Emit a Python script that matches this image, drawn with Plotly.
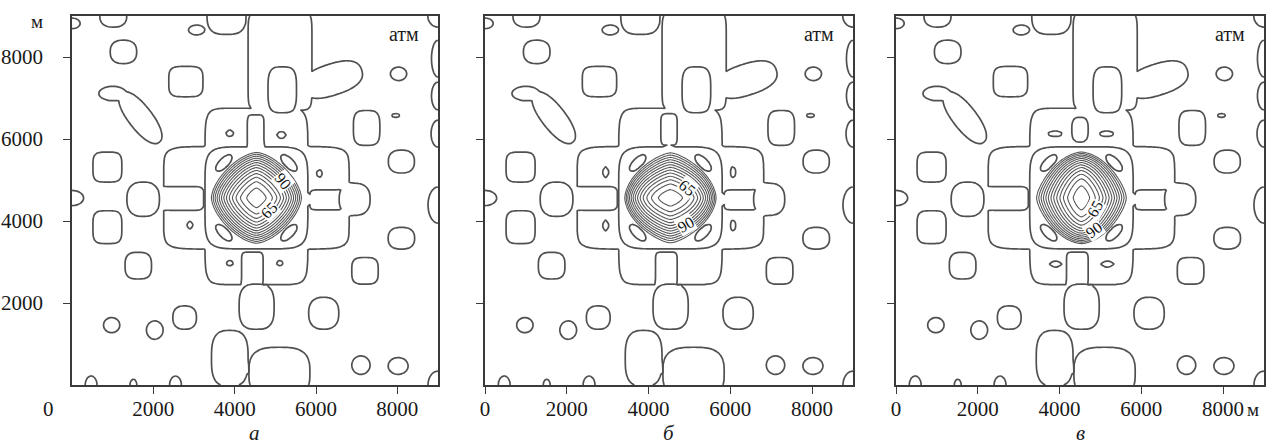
import numpy as np
import plotly.graph_objects as go

# ---------------- data ----------------
PANEL_LETTERS = ["а", "б", "в"]
PRESSURE_UNIT = "атм"
LENGTH_UNIT = "м"
X_TICKS_A = [2000, 4000, 6000, 8000]
X_TICKS_BC = [0, 2000, 4000, 6000, 8000]
Y_TICKS = [2000, 4000, 6000, 8000]
AXIS_MAX = 9000

LATTICE_LEVEL = 120          # атм, the single isobar of the outer field
LATTICE_SWING = 4
CLUSTER_START, CLUSTER_END, CLUSTER_STEP = 55, 115, 5
LABEL_LEVELS = [65, 90]
# direction (deg, from the well centre) in which the 65 and 90 labels sit, per panel
LABEL_DIRECTIONS = [[-45, 31], [31, -60], [-38, -68]]

# central well (depression) for panels а, б, в
WELL_X = [4535, 4535, 4535]
WELL_Y = [4565, 4565, 4565]
WELL_MIN = [52, 52, 52]
WELL_RADIUS = [1150, 1150, 1150]
WELL_STRETCH_X = [1.0, 1.3, 0.8]
WELL_STRETCH_Y = [1.0, 0.8, 1.3]
WELL_P_INNER = [1.25, 1.3, 1.3]
WELL_P_OUTER = [1.6, 1.6, 1.6]

# zones: (x, y, half-width, half-height, squareness, rotation deg, +1 above / -1 below isobar)
CROSS_ZONES = [
    (4535, 4565, 2280, 1250, 10, 0, 1),
    (4535, 4600, 1265, 2150, 10, 0, 1),
    (5115, 7900, 785, 1200, 10, 0, 1),
    (6400, 7450, 760, 380, 2.5, 18, 1),
    (4535, 4565, 1265, 1245, 6, 0, -1),
    (2710, 4550, 510, 290, 8, 0, -1),
    (6370, 4515, 520, 245, 8, 0, -1),
    (4435, 2820, 265, 420, 8, 0, -1),
    (5170, 7200, 350, 560, 3.5, 0, -1),
]
RING_EYES = [
    (3735, 5415, 260, 115, 2, 45, 1),
    (5335, 5415, 260, 115, 2, -45, 1),
    (3735, 3715, 260, 115, 2, -45, 1),
    (5335, 3715, 260, 115, 2, 45, 1),
]
OUTER_BLOBS = [
    (0, 8820, 200, 130, 2, 0, 1),
    (1015, 9000, 330, 270, 2.5, 0, 1),
    (1265, 8125, 325, 285, 2.5, 0, 1),
    (1000, 7110, 340, 175, 2, 0, 1),
    (1680, 6520, 760, 290, 2.2, -52, 1),
    (870, 5315, 355, 365, 4, 0, 1),
    (0, 4560, 285, 185, 2, 0, 1),
    (1750, 4530, 400, 420, 2.5, 0, 1),
    (870, 3850, 355, 400, 4, 0, 1),
    (1630, 2910, 325, 325, 3, 0, 1),
    (975, 1460, 200, 185, 2, 0, 1),
    (2035, 1340, 205, 225, 2, 0, 1),
    (2770, 1645, 290, 285, 2.5, 0, 1),
    (470, 0, 145, 220, 2, 0, 1),
    (1510, 0, 85, 140, 2, 0, 1),
    (2545, 0, 145, 220, 2, 0, 1),
    (3880, 650, 450, 680, 3, 0, 1),
    (5100, 300, 750, 620, 3, 0, 1),
    (4540, 1910, 430, 550, 3, 0, 1),
    (6190, 1750, 370, 390, 2.5, 0, 1),
    (7105, 485, 225, 225, 2, 0, 1),
    (8020, 465, 245, 205, 2, 0, 1),
    (9000, 0, 245, 340, 2, 0, 1),
    (7205, 2785, 325, 325, 3.5, 0, 1),
    (8100, 3580, 325, 265, 2.5, 0, 1),
    (8100, 5450, 320, 280, 2.5, 0, 1),
    (7245, 6270, 325, 425, 3.5, 0, 1),
    (7960, 6575, 100, 45, 2, 0, 1),
    (8030, 7590, 200, 165, 2, 0, 1),
    (9000, 7960, 160, 450, 2, 0, 1),
    (9000, 7050, 160, 340, 2, 0, 1),
    (9000, 6130, 170, 330, 2, 0, 1),
    (9000, 4390, 245, 440, 2, 0, 1),
    (9000, 9000, 250, 270, 2, 0, 1),
    (6950, 4530, 380, 390, 2.5, 0, 1),
    (2800, 7400, 420, 370, 4, 0, 1),
    (3800, 9050, 480, 500, 3, 0, 1),
    (3065, 8660, 200, 120, 2, 0, 1),
]
PANEL_ZONES = [
    [  # а
        (4515, 6150, 205, 440, 6, 0, -1),
        (3880, 6140, 90, 70, 2, 0, -1),
        (5150, 6100, 110, 70, 2, 0, -1),
        (2900, 3900, 60, 90, 2, 0, -1),
        (3880, 2970, 80, 60, 2, 0, -1),
        (5110, 2970, 70, 60, 2, 0, -1),
        (6090, 5160, 60, 90, 2, 0, -1),
    ],
    [  # б
        (4500, 6230, 200, 380, 6, 0, -1),
        (2950, 5190, 60, 130, 2, 0, -1),
        (2950, 3890, 60, 130, 2, 0, -1),
        (6065, 5190, 60, 130, 2, 0, -1),
        (6065, 3890, 60, 130, 2, 0, -1),
    ],
    [  # в
        (4500, 6230, 200, 300, 3, 0, -1),
        (3890, 6130, 170, 65, 2, 0, -1),
        (5150, 6130, 170, 65, 2, 0, -1),
        (3905, 2950, 150, 60, 2, 0, -1),
        (5170, 2950, 160, 60, 2, 0, -1),
    ],
]

# ---------------- field construction ----------------
def zone_depth(gx, gy, zone):
    cx, cy, rx, ry, p, ang, _ = zone
    dx, dy = gx - cx, gy - cy
    if ang:
        a = np.radians(ang)
        dx, dy = dx * np.cos(a) + dy * np.sin(a), -dx * np.sin(a) + dy * np.cos(a)
    d = (np.abs(dx / rx) ** p + np.abs(dy / ry) ** p) ** (1.0 / p)
    return 1.0 - d


def lattice_field(gx, gy, zones):
    s = -np.ones_like(gx, dtype=float)
    for zone in zones:
        m = zone_depth(gx, gy, zone)
        s = np.maximum(s, m) if zone[6] > 0 else np.minimum(s, -m)
    return LATTICE_LEVEL + LATTICE_SWING * np.clip(s, -1, 1)


def superr(dx, dy, p):
    return (np.abs(dx) ** p + np.abs(dy) ** p) ** (1 / p)


def well_field(gx, gy, i):
    dx, dy = gx - WELL_X[i], gy - WELL_Y[i]
    R = WELL_RADIUS[i]
    u_iso = np.hypot(dx, dy) / R
    t = np.clip(u_iso, 0, 1)
    p = WELL_P_INNER[i] + (WELL_P_OUTER[i] - WELL_P_INNER[i]) * t
    w = 1 - t
    fx = 1 + (WELL_STRETCH_X[i] - 1) * w
    fy = 1 + (WELL_STRETCH_Y[i] - 1) * w
    u = superr(dx / (R * fx), dy / (R * fy), p)
    return WELL_MIN[i] + (LATTICE_LEVEL - WELL_MIN[i]) * u ** 2


def panel_field(i, gx, gy):
    gx = np.asarray(gx, dtype=float)
    gy = np.asarray(gy, dtype=float)
    zones = CROSS_ZONES + PANEL_ZONES[i] + RING_EYES + OUTER_BLOBS
    return np.minimum(lattice_field(gx, gy, zones), well_field(gx, gy, i))


def label_spot(i, level, direction):
    """Point where the isobar `level` crosses the ray `direction`, and its tangent angle."""
    a = np.radians(direction)
    r = np.arange(0, 1600, 2.0)
    px = WELL_X[i] + r * np.cos(a)
    py = WELL_Y[i] + r * np.sin(a)
    z = panel_field(i, px, py)
    k = int(np.argmax(z >= level))
    rr = np.interp(level, [z[k - 1], z[k]], [r[k - 1], r[k]])
    x0, y0 = WELL_X[i] + rr * np.cos(a), WELL_Y[i] + rr * np.sin(a)
    h = 10.0
    gx = (panel_field(i, np.array([x0 + h]), np.array([y0]))[0]
          - panel_field(i, np.array([x0 - h]), np.array([y0]))[0])
    gy = (panel_field(i, np.array([x0]), np.array([y0 + h]))[0]
          - panel_field(i, np.array([x0]), np.array([y0 - h]))[0])
    phi = np.degrees(np.arctan2(gx, -gy))
    while phi > 90:
        phi -= 180
    while phi <= -90:
        phi += 180
    return x0, y0, -phi


full = np.arange(0, AXIS_MAX + 1, 50.0)
FX, FY = np.meshgrid(full, full)
sub = np.arange(3000, 6101, 25.0)
SX, SY = np.meshgrid(sub, sub)

LINE_COLOR = "#505050"
CLUSTER_COLOR = "#585858"
FONT = "Liberation Serif"

fig = go.Figure()
ann = []
for i in range(3):
    xa = "x" if i == 0 else f"x{i+1}"
    ya = "y" if i == 0 else f"y{i+1}"
    zf = np.round(panel_field(i, FX, FY), 2)
    zs = np.round(panel_field(i, SX, SY), 2)
    fig.add_trace(go.Contour(
        x=full, y=full, z=zf, xaxis=xa, yaxis=ya,
        contours=dict(start=LATTICE_LEVEL, end=LATTICE_LEVEL, size=5, coloring="none"),
        line=dict(color=LINE_COLOR, width=1.7, smoothing=0.6),
        showscale=False, hoverinfo="skip"))
    fig.add_trace(go.Contour(
        x=sub, y=sub, z=zs, xaxis=xa, yaxis=ya,
        contours=dict(start=CLUSTER_START, end=CLUSTER_END, size=CLUSTER_STEP, coloring="none"),
        line=dict(color=CLUSTER_COLOR, width=1.1, smoothing=0.6),
        showscale=False, hoverinfo="skip"))
    for lev, dirn in zip(LABEL_LEVELS, LABEL_DIRECTIONS[i]):
        lx, ly, ang = label_spot(i, lev, dirn)
        ann.append(dict(text=str(lev), x=lx, y=ly, xref=xa, yref=ya, showarrow=False,
                        textangle=ang, bgcolor="white", borderpad=0,
                        font=dict(family=FONT, size=16, color="#111")))

W, H = 1276, 447
x_domains = [(72, 438), (485, 853), (896, 1264)]
y_dom = [(H - 385) / H, (H - 16) / H]
axis_common = dict(range=[0, AXIS_MAX], showgrid=False, zeroline=False, showline=True,
                   mirror=True, linecolor="#3a3a3a", linewidth=1.5, ticks="outside",
                   ticklen=7, tickwidth=1.3, tickcolor="#3a3a3a", automargin=False,
                   tickfont=dict(family=FONT, size=21, color="#1a1a1a"))
layout = dict(width=W, height=H, margin=dict(l=0, r=0, t=0, b=0, autoexpand=False),
              paper_bgcolor="white", plot_bgcolor="white", showlegend=False)
for i, (l, r) in enumerate(x_domains):
    sfx = "" if i == 0 else str(i + 1)
    xt = X_TICKS_A if i == 0 else X_TICKS_BC
    layout["xaxis" + sfx] = dict(axis_common, domain=[l / W, r / W], anchor="y" + sfx,
                                 tickvals=xt, ticktext=[str(v) for v in xt],
                                 ticklabelstandoff=-3)
    layout["yaxis" + sfx] = dict(axis_common, domain=y_dom, anchor="x" + sfx,
                                 tickvals=Y_TICKS, ticktext=[str(v) for v in Y_TICKS],
                                 showticklabels=(i == 0), ticklabelstandoff=16)


def px_ann(text, x, y, size=21, italic=False, xanchor="center"):
    ann.append(dict(text=text, x=x / W, y=1 - y / H, xref="paper", yref="paper",
                    showarrow=False, xanchor=xanchor, yanchor="middle",
                    font=dict(family=FONT, size=size, color="#1a1a1a",
                              style="italic" if italic else "normal")))

px_ann("0", 48, 409)
px_ann(LENGTH_UNIT, 37, 22, size=19)
px_ann(LENGTH_UNIT, 1253, 409, size=19)
for (l, r), letter in zip(x_domains, PANEL_LETTERS):
    px_ann(PRESSURE_UNIT, r - 34, 34, size=20)
    px_ann(letter, (l + r) / 2, 433, size=21, italic=True)
layout["annotations"] = ann
fig.update_layout(**layout)
fig.write_html("out.html")
